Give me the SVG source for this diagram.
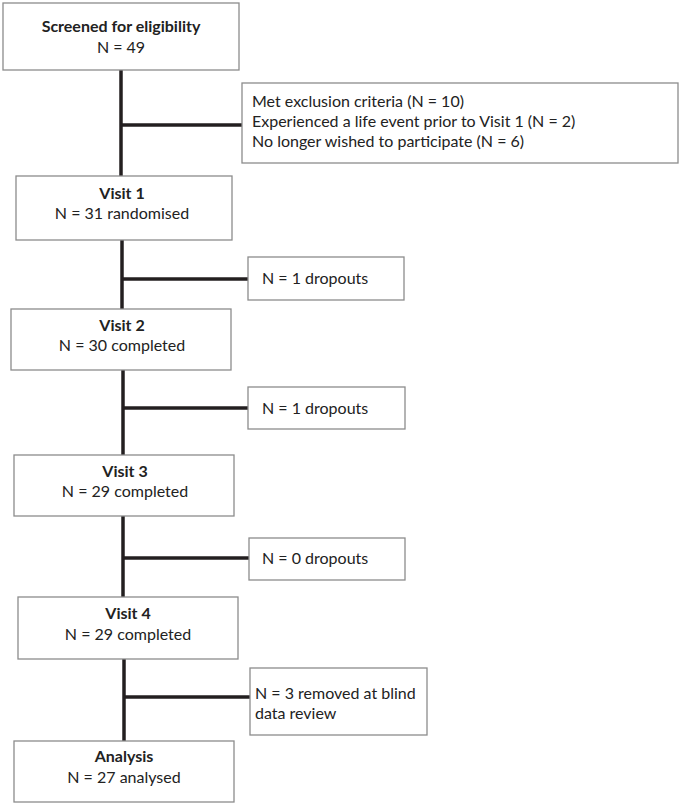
<svg xmlns="http://www.w3.org/2000/svg" width="681" height="806" viewBox="0 0 681 806">
<style>
.box{fill:#fff;stroke:#8c8c8c;stroke-width:1.3}
.t{font-family:Lato,"Liberation Sans",sans-serif;font-size:16px;fill:#222}
.b{font-weight:bold}
.c{text-anchor:middle}
.ln{stroke:#231f20;stroke-width:3.5;fill:none}
</style>
<rect width="681" height="806" fill="#fff"/>
<g id="connectors">
<line class="ln" x1="121" y1="70" x2="121" y2="176"/>
<line class="ln" x1="121" y1="125" x2="242" y2="125"/>
<line class="ln" x1="122" y1="240" x2="122" y2="309"/>
<line class="ln" x1="122" y1="279" x2="248" y2="279"/>
<line class="ln" x1="123" y1="370" x2="123" y2="455"/>
<line class="ln" x1="123" y1="408" x2="248" y2="408"/>
<line class="ln" x1="123" y1="516" x2="123" y2="597"/>
<line class="ln" x1="123" y1="558" x2="249" y2="558"/>
<line class="ln" x1="124" y1="659" x2="124" y2="741"/>
<line class="ln" x1="124" y1="697" x2="250" y2="697"/>
</g>
<g id="screened">
<rect class="box" x="3" y="3" width="236" height="67"/>
<text class="t b c" x="121" y="32">Screened for eligibility</text>
<text class="t c" x="121" y="53">N = 49</text>
</g>
<g id="excluded">
<rect class="box" x="242" y="83" width="436" height="80"/>
<text class="t" x="252" y="107">Met exclusion criteria (N = 10)</text>
<text class="t" x="252" y="127">Experienced a life event prior to Visit 1 (N = 2)</text>
<text class="t" x="252" y="147">No longer wished to participate (N = 6)</text>
</g>
<g id="visit1">
<rect class="box" x="16" y="176" width="216" height="64"/>
<text class="t b c" x="122" y="199">Visit 1</text>
<text class="t c" x="122" y="219">N = 31 randomised</text>
</g>
<g id="drop1">
<rect class="box" x="248" y="257" width="156" height="43"/>
<text class="t" x="262" y="284">N = 1 dropouts</text>
</g>
<g id="visit2">
<rect class="box" x="11" y="309" width="220" height="61"/>
<text class="t b c" x="122" y="331">Visit 2</text>
<text class="t c" x="122" y="351">N = 30 completed</text>
</g>
<g id="drop2">
<rect class="box" x="248" y="387" width="157" height="42"/>
<text class="t" x="262" y="414">N = 1 dropouts</text>
</g>
<g id="visit3">
<rect class="box" x="14" y="455" width="220" height="61"/>
<text class="t b c" x="125" y="477">Visit 3</text>
<text class="t c" x="125" y="497">N = 29 completed</text>
</g>
<g id="drop3">
<rect class="box" x="249" y="538" width="156" height="42"/>
<text class="t" x="262" y="564">N = 0 dropouts</text>
</g>
<g id="visit4">
<rect class="box" x="18" y="597" width="220" height="62"/>
<text class="t b c" x="128" y="619">Visit 4</text>
<text class="t c" x="128" y="640">N = 29 completed</text>
</g>
<g id="removed">
<rect class="box" x="250" y="668" width="177" height="67"/>
<text class="t" x="255" y="699">N = 3 removed at blind</text>
<text class="t" x="255" y="719">data review</text>
</g>
<g id="analysis">
<rect class="box" x="14" y="741" width="220" height="61"/>
<text class="t b c" x="124" y="762">Analysis</text>
<text class="t c" x="124" y="783">N = 27 analysed</text>
</g>
</svg>
